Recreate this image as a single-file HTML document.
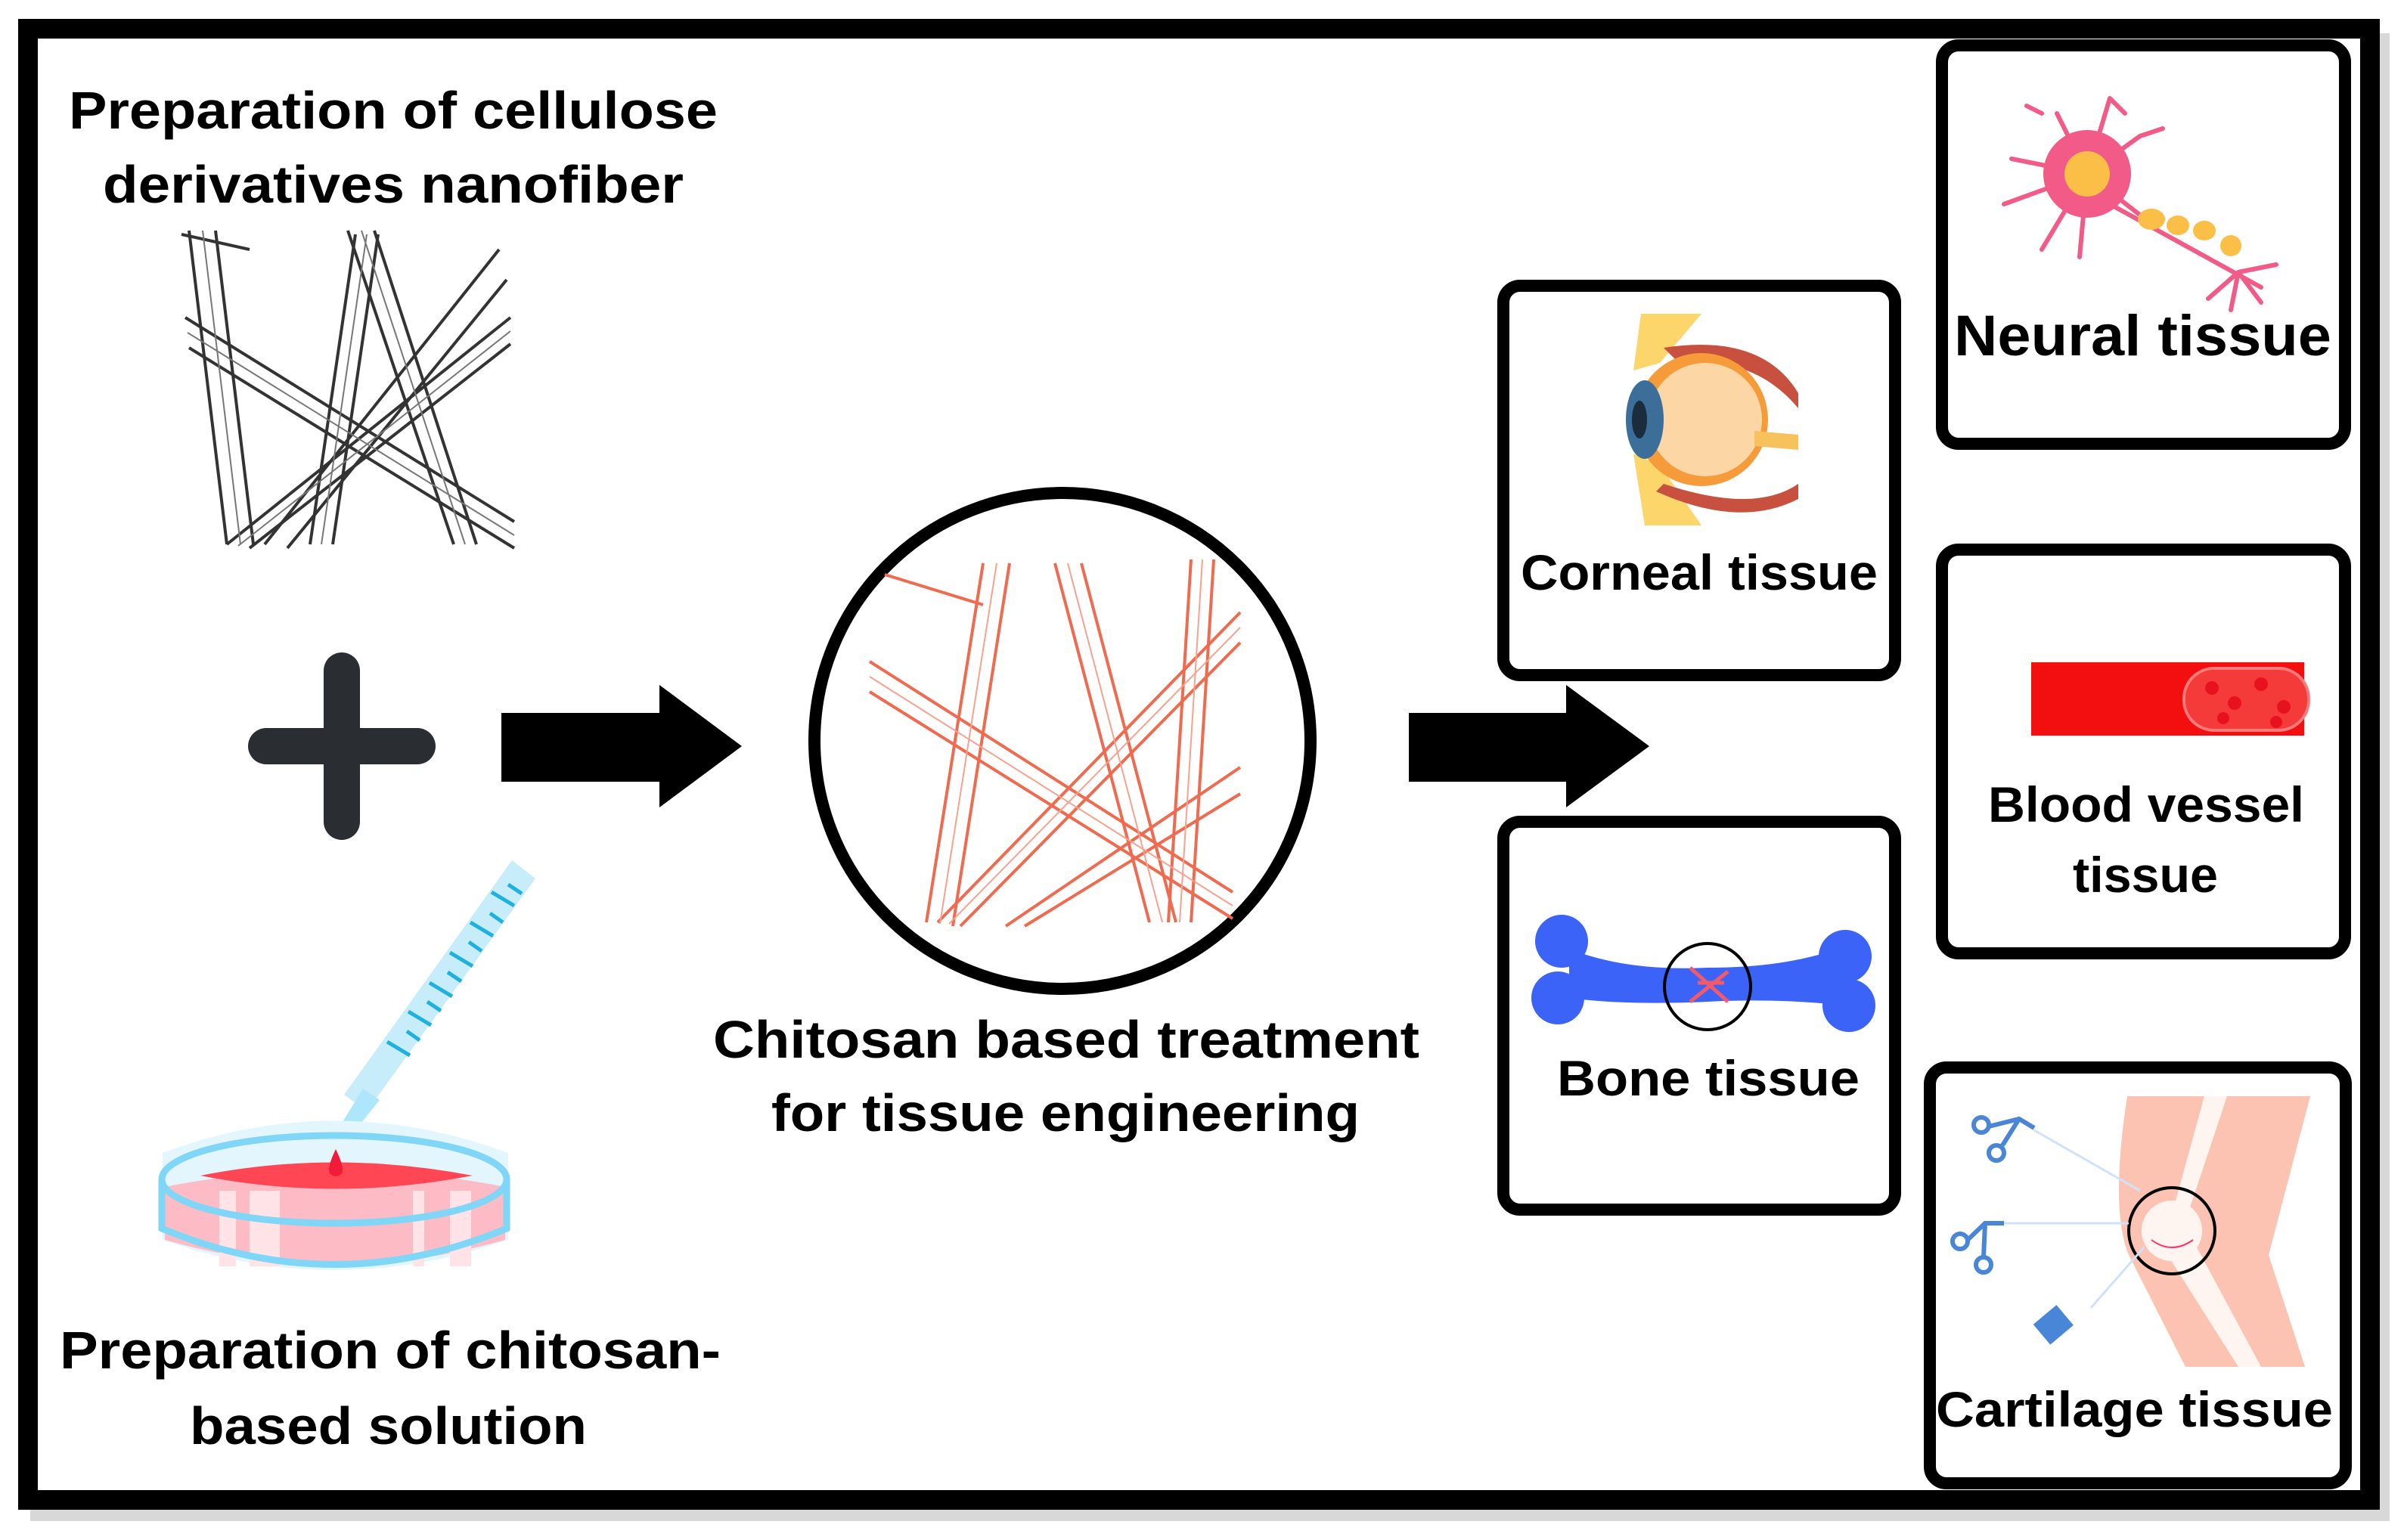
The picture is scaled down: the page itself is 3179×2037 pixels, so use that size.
<!DOCTYPE html>
<html><head><meta charset="utf-8"><style>
html,body{margin:0;padding:0;background:#fff;}
svg{display:block}
text{font-family:"Liberation Sans",sans-serif;font-weight:bold;fill:#000}
</style></head><body>
<svg width="3179" height="2037" viewBox="0 0 3179 2037" xmlns="http://www.w3.org/2000/svg">
<rect x="0" y="0" width="3179" height="2037" fill="#fff"/>
<!-- shadow -->
<rect x="40" y="44" width="3120" height="1968" fill="#d8d8d8"/>
<rect x="37" y="38" width="3097" height="1946" fill="#fff" stroke="#000" stroke-width="26"/>

<!-- top-left text -->
<text x="91" y="170" font-size="70" textLength="858" lengthAdjust="spacingAndGlyphs">Preparation of cellulose</text>
<text x="136" y="268" font-size="70" textLength="768" lengthAdjust="spacingAndGlyphs">derivatives nanofiber</text>

<!-- black fibers -->
<g fill="none" stroke="#333" stroke-width="4">
<path d="M250 305 L300 720 M285 305 L335 720"/>
<path d="M460 305 L600 720 M495 305 L630 720"/>
<path d="M245 420 L680 690 M250 460 L680 725"/>
<path d="M300 720 L675 420 M330 725 L675 455"/>
<path d="M410 720 L470 310 M440 720 L500 310"/>
<path d="M240 310 L330 330 M350 720 L660 330 M380 725 L670 370"/>
</g>
<g fill="none" stroke="#777" stroke-width="2">
<path d="M268 305 L318 720 M478 305 L615 720 M248 440 L680 708 M315 722 L675 438 M425 720 L485 310"/>
</g>

<!-- plus -->
<g stroke="#2a2e33" stroke-width="48" stroke-linecap="round">
<line x1="352" y1="987" x2="552" y2="987"/>
<line x1="452" y1="887" x2="452" y2="1087"/>
</g>

<!-- pipette + dish -->
<g>
<polygon points="677,1138 708,1162 485,1470 455,1448" fill="#c7ecfa"/>
<polygon points="480,1440 502,1455 450,1520 437,1510" fill="#aee6fb"/>
<g stroke="#1eb0de" stroke-width="5">
<line x1="672" y1="1170" x2="690" y2="1182"/><line x1="650" y1="1180" x2="680" y2="1198"/>
<line x1="648" y1="1208" x2="665" y2="1220"/><line x1="622" y1="1220" x2="652" y2="1238"/>
<line x1="620" y1="1246" x2="637" y2="1258"/><line x1="595" y1="1260" x2="625" y2="1278"/>
<line x1="592" y1="1286" x2="610" y2="1298"/><line x1="568" y1="1300" x2="598" y2="1318"/>
<line x1="565" y1="1325" x2="583" y2="1337"/><line x1="540" y1="1338" x2="570" y2="1356"/>
<line x1="538" y1="1364" x2="555" y2="1376"/><line x1="512" y1="1378" x2="542" y2="1396"/>
</g>
<path d="M215 1525 Q442 1440 672 1525 L672 1640 Q442 1720 215 1640 Z" fill="#e4f6fd"/>
<path d="M218 1570 Q442 1525 668 1570 L668 1640 Q442 1705 218 1640 Z" fill="#fdbcc5"/>
<path d="M265 1555 Q442 1520 625 1555 Q442 1590 265 1555 Z" fill="#fe4654"/>
<rect x="290" y="1575" width="22" height="100" fill="#ffe3e6"/>
<rect x="330" y="1575" width="40" height="100" fill="#ffe3e6"/>
<rect x="546" y="1575" width="15" height="100" fill="#ffe3e6"/>
<rect x="595" y="1575" width="28" height="100" fill="#ffe3e6"/>
<ellipse cx="442" cy="1560" rx="228" ry="58" fill="none" stroke="#7fd6f7" stroke-width="9"/>
<path d="M214 1560 L214 1625 Q442 1720 670 1625 L670 1560" fill="none" stroke="#7fd6f7" stroke-width="9"/>
<path d="M444 1520 Q432 1545 436 1552 Q444 1560 452 1552 Q456 1545 444 1520 Z" fill="#f21c3a"/>
</g>
<text x="79" y="1810" font-size="70" textLength="874" lengthAdjust="spacingAndGlyphs">Preparation of chitosan-</text>
<text x="251" y="1910" font-size="70" textLength="525" lengthAdjust="spacingAndGlyphs">based solution</text>

<!-- arrows -->
<polygon points="663,943 872,943 872,906 981,987 872,1068 872,1034 663,1034" fill="#000"/>
<polygon points="1863,943 2071,943 2071,906 2181,987 2071,1068 2071,1034 1863,1034" fill="#000"/>

<!-- circle with red fibers -->
<circle cx="1405" cy="980" r="328" fill="#fff" stroke="#000" stroke-width="16"/>
<g fill="none" stroke="#f06a4f" stroke-width="4">
<path d="M1300 745 L1225 1220 M1335 745 L1260 1225"/>
<path d="M1395 745 L1520 1220 M1430 745 L1555 1220"/>
<path d="M1575 740 L1545 1220 M1605 740 L1575 1220"/>
<path d="M1150 875 L1630 1180 M1150 915 L1630 1215"/>
<path d="M1240 1220 L1640 810 M1270 1225 L1640 850"/>
<path d="M1330 1225 L1640 1015 M1355 1225 L1640 1050"/>
<path d="M1170 760 L1300 800"/>
</g>
<g fill="none" stroke="#f7a28f" stroke-width="2">
<path d="M1318 745 L1243 1222 M1412 745 L1537 1220 M1590 740 L1560 1220 M1150 895 L1630 1198 M1255 1222 L1640 830"/>
</g>
<text x="943" y="1399" font-size="70" textLength="934" lengthAdjust="spacingAndGlyphs">Chitosan based treatment</text>
<text x="1020" y="1496" font-size="70" textLength="778" lengthAdjust="spacingAndGlyphs">for tissue engineering</text>

<!-- boxes -->
<g fill="#fff" stroke="#000" stroke-width="16">
<rect x="1988" y="378" width="518" height="515" rx="22"/>
<rect x="1988" y="1087" width="518" height="513" rx="22"/>
<rect x="2568" y="60" width="533" height="527" rx="22"/>
<rect x="2568" y="727" width="533" height="534" rx="22"/>
<rect x="2552" y="1412" width="550" height="550" rx="22"/>
</g>

<!-- eye -->
<g>
<polygon points="2170,415 2250,415 2195,480 2160,490" fill="#fcd56b"/>
<polygon points="2160,600 2195,615 2250,695 2175,695" fill="#fcd56b"/>
<path d="M2200 460 Q2330 440 2378 520 L2378 540 Q2320 470 2220 480 Z" fill="#c8503e"/>
<path d="M2200 640 Q2320 680 2378 640 L2378 660 Q2300 700 2190 650 Z" fill="#c8503e"/>
<circle cx="2250" cy="555" r="88" fill="#f69b3a"/>
<circle cx="2255" cy="555" r="75" fill="#fcd6a4"/>
<path d="M2320 570 L2378 575 L2378 595 L2320 590 Z" fill="#f7c25c"/>
<ellipse cx="2175" cy="555" rx="25" ry="52" fill="#3b6f9a"/>
<ellipse cx="2168" cy="555" rx="10" ry="25" fill="#1d2c3c"/>
</g>
<text x="2011" y="780" font-size="66" textLength="472" lengthAdjust="spacingAndGlyphs">Corneal tissue</text>

<!-- neuron -->
<g stroke="#f25a87" stroke-width="6" fill="none" stroke-linecap="round">
<path d="M2760 230 L2720 150 M2760 230 L2790 130 M2760 230 L2830 180 M2760 230 L2660 210 M2760 230 L2650 270 M2760 230 L2700 330 M2760 230 L2750 340 M2760 230 L2850 300 M2700 150 L2680 140 M2790 130 L2810 150 M2830 180 L2860 170"/>
<path d="M2790 270 L2990 380 M2960 360 L2950 410 M2960 360 L2990 400 M2960 360 L2920 395 M2960 360 L3010 350"/>
</g>
<circle cx="2760" cy="230" r="58" fill="#f25a87"/>
<circle cx="2760" cy="230" r="30" fill="#fbbf48"/>
<g fill="#fbbf48"><ellipse cx="2845" cy="290" rx="18" ry="14"/><ellipse cx="2880" cy="298" rx="15" ry="13"/><ellipse cx="2915" cy="305" rx="15" ry="13"/><ellipse cx="2950" cy="325" rx="14" ry="14"/></g>
<text x="2584" y="470" font-size="76" textLength="499" lengthAdjust="spacingAndGlyphs">Neural tissue</text>

<!-- blood vessel -->
<rect x="2686" y="876" width="361" height="97" fill="#f30f10"/>
<rect x="2888" y="884" width="165" height="82" rx="40" fill="#f53a3a" stroke="#ff7a7a" stroke-width="4"/>
<g fill="#e8121e"><circle cx="2925" cy="910" r="9"/><circle cx="2955" cy="930" r="9"/><circle cx="2990" cy="905" r="9"/><circle cx="3020" cy="935" r="9"/><circle cx="2940" cy="950" r="8"/><circle cx="3010" cy="955" r="8"/></g>
<text x="2629" y="1087" font-size="66" textLength="418" lengthAdjust="spacingAndGlyphs">Blood vessel</text>
<text x="2741" y="1180" font-size="66" textLength="192" lengthAdjust="spacingAndGlyphs">tissue</text>

<!-- bone -->
<g fill="#3c63f7">
<path d="M2075 1255 Q2150 1285 2258 1280 Q2360 1280 2430 1255 L2440 1330 Q2350 1320 2258 1325 Q2150 1330 2075 1320 Z"/>
<circle cx="2065" cy="1245" r="35"/><circle cx="2060" cy="1320" r="35"/>
<circle cx="2440" cy="1265" r="35"/><circle cx="2445" cy="1330" r="35"/>
</g>
<g stroke="#f25a6a" stroke-width="5"><line x1="2235" y1="1280" x2="2285" y2="1325"/><line x1="2235" y1="1325" x2="2285" y2="1285"/><line x1="2245" y1="1300" x2="2280" y2="1300"/></g>
<circle cx="2258" cy="1305" r="57" fill="none" stroke="#000" stroke-width="4"/>
<text x="2059" y="1449" font-size="66" textLength="400" lengthAdjust="spacingAndGlyphs">Bone tissue</text>

<!-- knee -->
<g>
<path d="M2813 1450 L3055 1450 L3000 1660 L3048 1808 L2890 1808 L2815 1660 Q2790 1600 2813 1450 Z" fill="#fcc3b2"/>
<path d="M2915 1450 L2945 1450 L2895 1600 L2905 1650 L2990 1808 L2960 1808 L2860 1650 Z" fill="#fff5f0"/>
<circle cx="2872" cy="1628" r="40" fill="#fff5f0"/>
<circle cx="2872" cy="1628" r="57" fill="none" stroke="#000" stroke-width="4"/>
<path d="M2845 1640 Q2872 1660 2900 1640" fill="none" stroke="#f36" stroke-width="2"/>
<g stroke="#cfe2fb" stroke-width="3"><line x1="2690" y1="1495" x2="2830" y2="1575"/><line x1="2650" y1="1618" x2="2815" y2="1618"/><line x1="2765" y1="1730" x2="2835" y2="1650"/></g>
<g fill="none" stroke="#4a86d8" stroke-width="6"><circle cx="2620" cy="1488" r="10"/><circle cx="2640" cy="1525" r="10"/><circle cx="2592" cy="1642" r="10"/><circle cx="2623" cy="1673" r="10"/><path d="M2630 1490 L2670 1480 L2690 1492 M2648 1515 L2670 1480"/><path d="M2602 1640 L2625 1618 L2650 1618 M2623 1663 L2625 1618"/></g>
<rect x="2695" y="1735" width="40" height="35" fill="#4a86d8" transform="rotate(-40 2715 1752)"/>
</g>
<text x="2560" y="1887" font-size="66" textLength="525" lengthAdjust="spacingAndGlyphs">Cartilage tissue</text>
</svg>
</body></html>
